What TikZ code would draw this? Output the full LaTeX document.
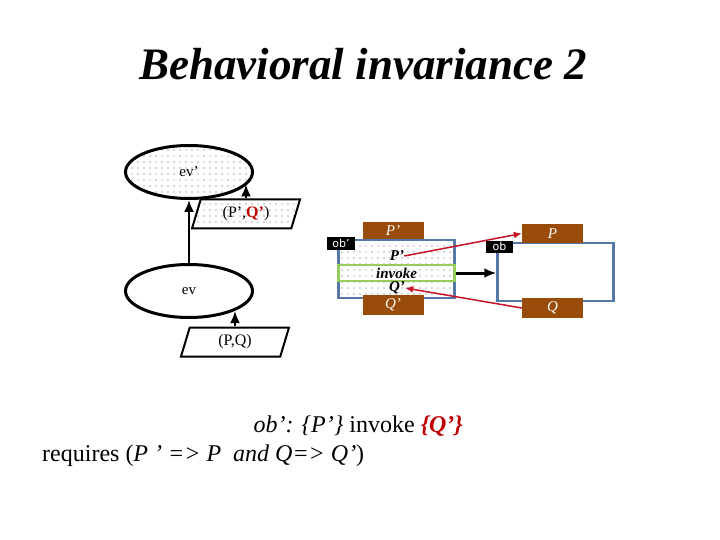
\documentclass[tikz,border=0pt]{standalone}
\usepackage{fontspec}
\setmainfont{Liberation Serif}
\newfontfamily\labelfont{DejaVu Sans}
\usetikzlibrary{shapes.geometric,patterns.meta,arrows.meta}
\definecolor{boxbrown}{RGB}{153,76,10}
\definecolor{boxblue}{RGB}{84,120,168}
\definecolor{bandgreen}{RGB}{150,205,90}
\definecolor{linkred}{RGB}{200,20,40}
\definecolor{textred}{RGB}{192,0,0}

\begin{document}
\begin{tikzpicture}[x=1pt, y=-1pt,
                every node/.style={inner sep=0pt},
                dots_fill/.style={pattern={Dots[distance=6pt,radius=0.55pt]}, pattern color=black!65},
                event/.style={ellipse, draw, line width=3pt, minimum width=127pt, minimum height=53pt,
                  font=\fontsize{15}{15}\selectfont},
                cond/.style={trapezium, trapezium left angle=59, trapezium right angle=121,
                  trapezium stretches body, draw, line width=2pt, minimum width=108pt, minimum height=29pt,
                  font=\fontsize{16}{16}\selectfont},
                obj_box/.style={draw=boxblue, line width=2.5pt, minimum width=116pt, minimum height=58pt},
                band/.style={draw=bandgreen, line width=2.5pt, minimum width=116pt, minimum height=16pt},
                pre_box/.style={fill=boxbrown, text=white, minimum width=61pt, minimum height=19pt,
                  font=\fontsize{15}{15}\selectfont\itshape},
                tag/.style={fill=black, text=white, minimum width=28pt, minimum height=13pt,
                  font=\labelfont\fontsize{11}{11}\selectfont},
                flow/.style={draw=black, line width=2pt, -{Latex[length=12pt,width=10pt]}},
                link/.style={draw=linkred, line width=1.5pt, -{Latex[length=8pt,width=7pt]}}]
                \useasboundingbox (0,0) rectangle (720,540);
                \node[anchor=base] (title) at (363,80) {\fontsize{45}{45}\selectfont\bfseries\itshape Behavioral invariance 2};
                % events and their conditions
                \node[event, dots_fill] (evp) at (189,172) {ev’};
                \node[event, fill=white] (ev) at (189,291) {ev};
                \node[cond, dots_fill] (pqp) at (246,214) {(P’,{\color{textred}\bfseries Q’})};
                \node[cond, fill=white] (pq) at (235,342) {(P,Q)};
                \draw[flow] (ev.north) -- (evp.south);
                \draw[flow] (pqp.north) -- (pqp.north |- evp.-12);
                \draw[flow] (pq.north) -- (pq.north |- ev.-24);
                % object ob'
                \node[obj_box, dots_fill] (obpbox) at (396.5,269) {};
                \node[band, font=\fontsize{15}{15}\selectfont\bfseries\itshape] (invoke) at (396.5,273) {invoke};
                \node[font=\fontsize{15}{15}\selectfont\bfseries\itshape] (ptxt) at (397,256) {P’};
                \node[font=\fontsize{15}{15}\selectfont\bfseries\itshape] (qtxt) at (397,288) {Q’};
                \node[pre_box, minimum height=17pt] (ppbox) at (393,230.5) {P’};
                \node[pre_box, minimum height=20pt] (qpbox) at (393,305) {Q’};
                \node[tag] (obptag) at (341,243.5) {ob’};
                % object ob
                \node[obj_box] (obbox) at (555.5,272) {};
                \node[pre_box] (pbox) at (552.5,233.5) {P};
                \node[pre_box, minimum height=20pt] (qbox) at (552.5,308) {Q};
                \node[tag, minimum width=27pt, minimum height=12pt] (obtag) at (499.5,246.5) {ob};
                \draw[flow, line width=3pt] (invoke.east) -- (invoke.east -| obbox.west);
                \draw[link] (ptxt.east) -- (pbox.west);
                \draw[link] (qbox.west) -- (qtxt.east);
                % rule
                \node[anchor=base east, font=\fontsize{24}{24}\selectfont] (rule1) at (463,432)
                  {\itshape ob’: \{P’\} \upshape invoke {\color{textred}\bfseries\itshape \{Q’\}}};
                \node[anchor=base west, font=\fontsize{24}{24}\selectfont] (rule2) at (42,461)
                  {requires (\textit{P ’ => P \ and Q=> Q’})};
\end{tikzpicture}
\end{document}
